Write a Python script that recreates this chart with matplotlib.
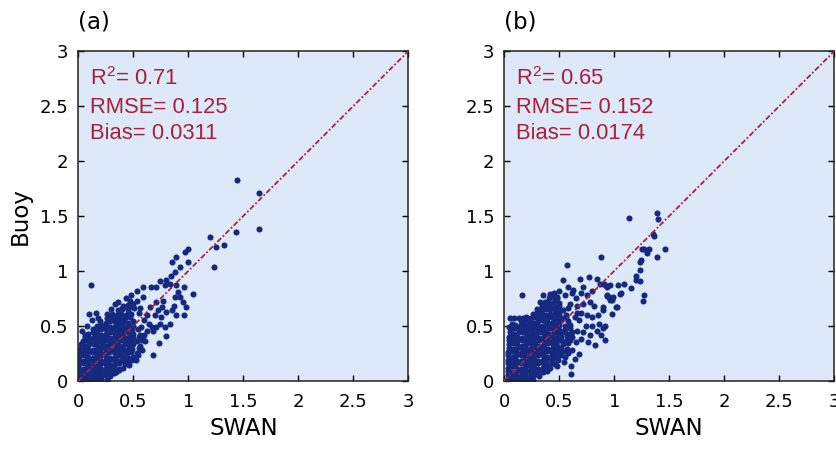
import numpy as np
import matplotlib
matplotlib.use('Agg')
import matplotlib.pyplot as plt

plt.rcParams['mathtext.fontset'] = 'custom'
plt.rcParams['mathtext.rm'] = 'Liberation Sans'

# axis ticks
tick_vals = [0, 0.5, 1, 1.5, 2, 2.5, 3]
tick_labels = ['0', '0.5', '1', '1.5', '2', '2.5', '3']
one_to_one = [0, 3]

panel_names = ['(a)', '(b)']
stats_r2 = ['0.71', '0.65']
stats_rmse = ['0.125', '0.152']
stats_bias = ['0.0311', '0.0174']

# panel (a): dense cloud near the origin, read row by row (SWAN, Buoy)
core_a = [
    (0.01, 0.01), (0.05, 0.02), (0.09, 0.01), (0.13, 0.02), (0.17, 0.01), (0.21, 0.02), (0.26, 0.01),
    (0.00, 0.05), (0.04, 0.04), (0.08, 0.05), (0.12, 0.04), (0.16, 0.05), (0.20, 0.04), (0.24, 0.05), (0.29, 0.04),
    (0.01, 0.08), (0.05, 0.09), (0.09, 0.08), (0.13, 0.07), (0.17, 0.08), (0.21, 0.09), (0.25, 0.08), (0.29, 0.09), (0.34, 0.08),
    (0.00, 0.12), (0.04, 0.11), (0.08, 0.12), (0.12, 0.12), (0.16, 0.11), (0.20, 0.12), (0.24, 0.11), (0.28, 0.12), (0.32, 0.12), (0.37, 0.11), (0.41, 0.12),
    (0.01, 0.15), (0.05, 0.16), (0.09, 0.15), (0.13, 0.14), (0.17, 0.15), (0.21, 0.16), (0.25, 0.15), (0.29, 0.14), (0.33, 0.15), (0.37, 0.16), (0.42, 0.15), (0.46, 0.14),
    (0.00, 0.19), (0.04, 0.18), (0.08, 0.19), (0.12, 0.19), (0.16, 0.18), (0.20, 0.19), (0.24, 0.18), (0.28, 0.19), (0.32, 0.19), (0.36, 0.18), (0.40, 0.19), (0.44, 0.18), (0.49, 0.19),
    (0.01, 0.22), (0.05, 0.23), (0.09, 0.22), (0.13, 0.21), (0.17, 0.22), (0.21, 0.23), (0.25, 0.22), (0.29, 0.21), (0.33, 0.22), (0.37, 0.23), (0.41, 0.22), (0.45, 0.21), (0.50, 0.22), (0.54, 0.23),
    (0.00, 0.26), (0.04, 0.25), (0.08, 0.26), (0.12, 0.26), (0.16, 0.25), (0.20, 0.26), (0.24, 0.25), (0.28, 0.26), (0.32, 0.26), (0.36, 0.25), (0.40, 0.26), (0.44, 0.25), (0.48, 0.26), (0.53, 0.25),
    (0.01, 0.29), (0.05, 0.30), (0.09, 0.29), (0.13, 0.28), (0.17, 0.29), (0.21, 0.30), (0.25, 0.29), (0.29, 0.28), (0.33, 0.29), (0.37, 0.30), (0.41, 0.29), (0.45, 0.28), (0.49, 0.29), (0.55, 0.30),
    (0.02, 0.33), (0.06, 0.32), (0.10, 0.33), (0.14, 0.33), (0.18, 0.32), (0.22, 0.33), (0.26, 0.32), (0.30, 0.33), (0.34, 0.33), (0.38, 0.32), (0.42, 0.33), (0.46, 0.32), (0.50, 0.33), (0.56, 0.32),
    (0.04, 0.36), (0.08, 0.37), (0.12, 0.36), (0.16, 0.35), (0.20, 0.36), (0.24, 0.37), (0.28, 0.36), (0.32, 0.35), (0.36, 0.36), (0.40, 0.37), (0.44, 0.36), (0.48, 0.35), (0.53, 0.36), (0.58, 0.37),
    (0.06, 0.40), (0.10, 0.39), (0.14, 0.40), (0.18, 0.40), (0.22, 0.39), (0.26, 0.40), (0.30, 0.39), (0.34, 0.40), (0.38, 0.40), (0.42, 0.39), (0.46, 0.40), (0.50, 0.39), (0.55, 0.40),
    (0.09, 0.43), (0.13, 0.44), (0.17, 0.43), (0.21, 0.42), (0.25, 0.43), (0.29, 0.44), (0.33, 0.43), (0.37, 0.42), (0.41, 0.43), (0.45, 0.44), (0.50, 0.43), (0.56, 0.42),
    (0.13, 0.47), (0.17, 0.46), (0.21, 0.47), (0.25, 0.47), (0.29, 0.46), (0.33, 0.47), (0.37, 0.46), (0.41, 0.47), (0.45, 0.47), (0.49, 0.46), (0.54, 0.47),
    (0.17, 0.50), (0.21, 0.51), (0.25, 0.50), (0.29, 0.49), (0.33, 0.50), (0.37, 0.51), (0.41, 0.50), (0.45, 0.49), (0.50, 0.50),
    (0.20, 0.54), (0.25, 0.53), (0.29, 0.54), (0.33, 0.54), (0.37, 0.53), (0.41, 0.54), (0.45, 0.53), (0.50, 0.54),
    (0.26, 0.57), (0.30, 0.58), (0.34, 0.57), (0.38, 0.56), (0.42, 0.57), (0.47, 0.58),
    (0.31, 0.61), (0.35, 0.60), (0.39, 0.61), (0.43, 0.60), (0.48, 0.61),
    (0.36, 0.64), (0.40, 0.65), (0.45, 0.64),
    (0.41, 0.68), (0.46, 0.67),
]

# panel (a): scattered points away from the cloud
spread_a = [
    (0.115, 0.87), (0.10, 0.61), (0.16, 0.62), (0.06, 0.42), (0.03, 0.45), (0.12, 0.55), (0.18, 0.57), (0.08, 0.50),
    (0.85, 1.08), (0.89, 1.13), (0.92, 1.04), (0.97, 1.17), (1.00, 1.20), (1.00, 1.08),
    (0.88, 0.99), (0.84, 0.95), (0.80, 0.92), (0.74, 0.91), (0.66, 0.85), (0.71, 0.85), (0.79, 0.87), (0.83, 0.88),
    (0.89, 0.87), (0.96, 0.85), (1.04, 0.79), (0.91, 0.81), (0.88, 0.76), (0.92, 0.76), (0.95, 0.72), (0.98, 0.67),
    (0.96, 0.60), (0.89, 0.60), (0.83, 0.52), (0.87, 0.68), (0.85, 0.64), (0.77, 0.73), (0.71, 0.72), (0.76, 0.67),
    (0.80, 0.63), (0.72, 0.64), (0.70, 0.60), (0.75, 0.58), (0.74, 0.52), (0.79, 0.49), (0.80, 0.41), (0.73, 0.34),
    (0.68, 0.23), (0.37, 0.10), (0.32, 0.07), (0.45, 0.17), (0.52, 0.19), (0.58, 0.28), (0.61, 0.36), (0.62, 0.45),
    (0.59, 0.85), (0.53, 0.82), (0.48, 0.78), (0.59, 0.76), (0.65, 0.67), (0.62, 0.60), (0.67, 0.49), (0.68, 0.45),
    (0.58, 0.40), (0.71, 0.49), (0.45, 0.69), (0.41, 0.67), (0.38, 0.64), (0.53, 0.73), (0.56, 0.66), (0.50, 0.70),
    (0.55, 0.62), (0.60, 0.55), (0.64, 0.52), (0.57, 0.49), (0.60, 0.42), (0.30, 0.65), (0.26, 0.61), (0.33, 0.70),
    (0.36, 0.72), (0.43, 0.75), (0.47, 0.73), (0.51, 0.66),
    (1.445, 1.83), (1.645, 1.71), (1.645, 1.38), (1.43, 1.35), (1.20, 1.31), (1.25, 1.22), (1.32, 1.24), (1.23, 1.04),
]

# panel (b): dense cloud near the origin
core_b = [
    (0.02, 0.01), (0.06, 0.02), (0.10, 0.01), (0.14, 0.02), (0.18, 0.01), (0.22, 0.02), (0.26, 0.01),
    (0.03, 0.05), (0.07, 0.04), (0.11, 0.05), (0.15, 0.04), (0.19, 0.05), (0.23, 0.04), (0.27, 0.05), (0.32, 0.04),
    (0.03, 0.09), (0.07, 0.08), (0.11, 0.09), (0.15, 0.09), (0.19, 0.08), (0.23, 0.09), (0.27, 0.08), (0.31, 0.09), (0.35, 0.08), (0.39, 0.09),
    (0.03, 0.12), (0.07, 0.13), (0.11, 0.12), (0.15, 0.11), (0.19, 0.12), (0.23, 0.13), (0.27, 0.12), (0.31, 0.11), (0.35, 0.12), (0.39, 0.13), (0.42, 0.12),
    (0.03, 0.16), (0.07, 0.15), (0.11, 0.16), (0.15, 0.16), (0.19, 0.15), (0.23, 0.16), (0.27, 0.15), (0.31, 0.16), (0.35, 0.16), (0.39, 0.15), (0.43, 0.16), (0.46, 0.15),
    (0.03, 0.19), (0.07, 0.20), (0.11, 0.19), (0.15, 0.18), (0.19, 0.19), (0.23, 0.20), (0.27, 0.19), (0.31, 0.18), (0.35, 0.19), (0.39, 0.20), (0.43, 0.19), (0.49, 0.19),
    (0.03, 0.23), (0.07, 0.22), (0.11, 0.23), (0.15, 0.23), (0.19, 0.22), (0.23, 0.23), (0.27, 0.22), (0.31, 0.23), (0.35, 0.23), (0.39, 0.22), (0.43, 0.23), (0.47, 0.22), (0.52, 0.23),
    (0.03, 0.26), (0.07, 0.27), (0.11, 0.26), (0.15, 0.25), (0.19, 0.26), (0.23, 0.27), (0.27, 0.26), (0.31, 0.25), (0.35, 0.26), (0.39, 0.27), (0.43, 0.26), (0.47, 0.25), (0.51, 0.26), (0.55, 0.27),
    (0.04, 0.30), (0.08, 0.29), (0.12, 0.30), (0.16, 0.30), (0.20, 0.29), (0.24, 0.30), (0.28, 0.29), (0.32, 0.30), (0.36, 0.30), (0.40, 0.29), (0.44, 0.30), (0.48, 0.29), (0.52, 0.30), (0.57, 0.29),
    (0.04, 0.33), (0.08, 0.34), (0.12, 0.33), (0.16, 0.32), (0.20, 0.33), (0.24, 0.34), (0.28, 0.33), (0.32, 0.32), (0.36, 0.33), (0.40, 0.34), (0.44, 0.33), (0.48, 0.32), (0.53, 0.33), (0.58, 0.34),
    (0.04, 0.37), (0.08, 0.36), (0.12, 0.37), (0.16, 0.37), (0.20, 0.36), (0.24, 0.37), (0.28, 0.36), (0.32, 0.37), (0.36, 0.37), (0.40, 0.36), (0.44, 0.37), (0.48, 0.36), (0.52, 0.37), (0.56, 0.36), (0.60, 0.37),
    (0.04, 0.40), (0.08, 0.41), (0.12, 0.40), (0.16, 0.39), (0.20, 0.40), (0.24, 0.41), (0.28, 0.40), (0.32, 0.39), (0.36, 0.40), (0.40, 0.41), (0.44, 0.40), (0.48, 0.39), (0.52, 0.40), (0.57, 0.41), (0.62, 0.40),
    (0.05, 0.44), (0.09, 0.43), (0.13, 0.44), (0.17, 0.44), (0.21, 0.43), (0.25, 0.44), (0.29, 0.43), (0.33, 0.44), (0.37, 0.44), (0.41, 0.43), (0.45, 0.44), (0.49, 0.43), (0.53, 0.44), (0.58, 0.43), (0.62, 0.44),
    (0.06, 0.47), (0.10, 0.48), (0.14, 0.47), (0.18, 0.46), (0.22, 0.47), (0.26, 0.48), (0.30, 0.47), (0.34, 0.46), (0.38, 0.47), (0.42, 0.48), (0.46, 0.47), (0.50, 0.46), (0.55, 0.47), (0.60, 0.48),
    (0.10, 0.51), (0.14, 0.50), (0.18, 0.51), (0.22, 0.51), (0.26, 0.50), (0.30, 0.51), (0.34, 0.50), (0.38, 0.51), (0.42, 0.51), (0.46, 0.50), (0.50, 0.51), (0.55, 0.50), (0.60, 0.51),
    (0.15, 0.54), (0.19, 0.55), (0.23, 0.54), (0.27, 0.53), (0.31, 0.54), (0.35, 0.55), (0.39, 0.54), (0.43, 0.53), (0.47, 0.54), (0.52, 0.55), (0.58, 0.54),
    (0.20, 0.58), (0.24, 0.57), (0.28, 0.58), (0.32, 0.58), (0.36, 0.57), (0.40, 0.58), (0.44, 0.57), (0.48, 0.58), (0.52, 0.57), (0.56, 0.58),
    (0.26, 0.61), (0.30, 0.62), (0.34, 0.61), (0.38, 0.60), (0.42, 0.61), (0.46, 0.62), (0.50, 0.61), (0.56, 0.60),
    (0.30, 0.65), (0.34, 0.64), (0.38, 0.65), (0.42, 0.65), (0.46, 0.64), (0.50, 0.65), (0.53, 0.64),
    (0.34, 0.68), (0.38, 0.69), (0.42, 0.68), (0.46, 0.67), (0.50, 0.68),
    (0.37, 0.72), (0.41, 0.71), (0.45, 0.72), (0.50, 0.71),
    (0.41, 0.75), (0.45, 0.76), (0.48, 0.75),
]

# panel (b): scattered points away from the cloud
spread_b = [
    (0.05, 0.575), (0.09, 0.57), (0.13, 0.575), (0.17, 0.57), (0.21, 0.57), (0.07, 0.52), (0.04, 0.49), (0.158, 0.78),
    (0.567, 1.058), (0.536, 0.915), (0.69, 0.93), (0.77, 0.945), (0.84, 0.93), (0.87, 0.885), (0.915, 0.87),
    (1.036, 0.876), (1.088, 0.879), (1.155, 0.845), (0.355, 0.78), (0.415, 0.79), (0.476, 0.76), (0.324, 0.72),
    (0.58, 0.855), (0.627, 0.824), (0.718, 0.855), (0.93, 0.78), (0.99, 0.764), (1.05, 0.794), (0.96, 0.733),
    (0.90, 0.642), (1.02, 0.673), (0.98, 0.61), (0.915, 0.37), (0.824, 0.324), (0.68, 0.248), (0.603, 0.136),
    (0.603, 0.058), (0.48, 0.133), (0.55, 0.218), (0.54, 0.17), (0.876, 1.13), (0.96, 0.87), (0.906, 0.885),
    (0.93, 0.85), (0.895, 0.673), (0.955, 0.764),
    (0.65, 0.75), (0.70, 0.80), (0.75, 0.78), (0.80, 0.82), (0.66, 0.68), (0.72, 0.70), (0.78, 0.72), (0.82, 0.68),
    (0.70, 0.62), (0.75, 0.60), (0.80, 0.58), (0.85, 0.60), (0.68, 0.55), (0.74, 0.50), (0.80, 0.50), (0.86, 0.52),
    (0.90, 0.48), (0.84, 0.45), (0.78, 0.42), (0.72, 0.44), (0.66, 0.45), (0.70, 0.38), (0.76, 0.35), (0.65, 0.35),
    (0.62, 0.28), (0.64, 0.20), (0.58, 0.25), (0.88, 0.42), (0.92, 0.50), (0.60, 0.70), (0.62, 0.80), (0.50, 0.82),
    (0.45, 0.80), (0.55, 0.78), (0.64, 0.58), (0.66, 0.62), (0.58, 0.66),
    (1.136, 1.485), (1.385, 1.527), (1.40, 1.473), (1.355, 1.34), (1.364, 1.315), (1.46, 1.20), (1.25, 1.195),
    (1.27, 1.20), (1.315, 1.20), (1.30, 1.16), (1.385, 1.127), (1.234, 1.08), (1.245, 1.10), (1.234, 1.006),
    (1.20, 0.955), (1.197, 0.915), (1.234, 0.906), (1.27, 0.785), (1.264, 0.725), (1.058, 0.795), (0.976, 0.734),
    (0.93, 0.77), (1.027, 0.667),
]

panels = [core_a + spread_a, core_b + spread_b]

dot_color = '#14297f'
bg_color = '#dde9f8'
line_color = '#b01e3c'
text_color = '#a8203c'

fig = plt.figure(figsize=(8.36, 4.49), dpi=100)
lefts = [0.0937, 0.6032]

for i in range(2):
    ax = fig.add_axes([lefts[i], 0.152, 0.3947, 0.734])
    ax.set_facecolor(bg_color)
    pts = np.array(panels[i])
    ax.plot(pts[:, 0], pts[:, 1], 'o', color=dot_color, ms=4.4, mew=0, zorder=2)
    ax.plot(one_to_one, one_to_one, color=line_color, lw=1.3,
            linestyle=(0, (3, 1.2, 1, 1.2)), zorder=3)
    ax.set_xlim(0, 3)
    ax.set_ylim(0, 3)
    ax.set_xticks(tick_vals)
    ax.set_yticks(tick_vals)
    ax.set_xticklabels(tick_labels)
    ax.set_yticklabels(tick_labels)
    ax.tick_params(direction='in', top=True, right=True, length=4, width=1,
                   labelsize=13, colors='black')
    ax.tick_params(axis='x', pad=9)
    ax.tick_params(axis='y', pad=7)
    for s in ax.spines.values():
        s.set_linewidth(1.1)
        s.set_color('#222222')
    ax.set_xlabel('SWAN', fontsize=16.5, labelpad=4)
    if i == 0:
        ax.set_ylabel('Buoy', fontsize=16.5, labelpad=6)

    ax.text(0.0, 1.055, panel_names[i], transform=ax.transAxes, fontsize=16.5,
            ha='left', va='bottom')

    txt_kw = dict(color=text_color, fontsize=15.8, family='Liberation Sans',
                  ha='left', va='baseline')
    ax.text(0.105, 2.69, 'R$^{2}$= ' + stats_r2[i], **txt_kw)
    ax.text(0.105, 2.44, 'RMSE= ' + stats_rmse[i], **txt_kw)
    ax.text(0.105, 2.20, 'Bias= ' + stats_bias[i], **txt_kw)

fig.savefig('out.png', dpi=100)
